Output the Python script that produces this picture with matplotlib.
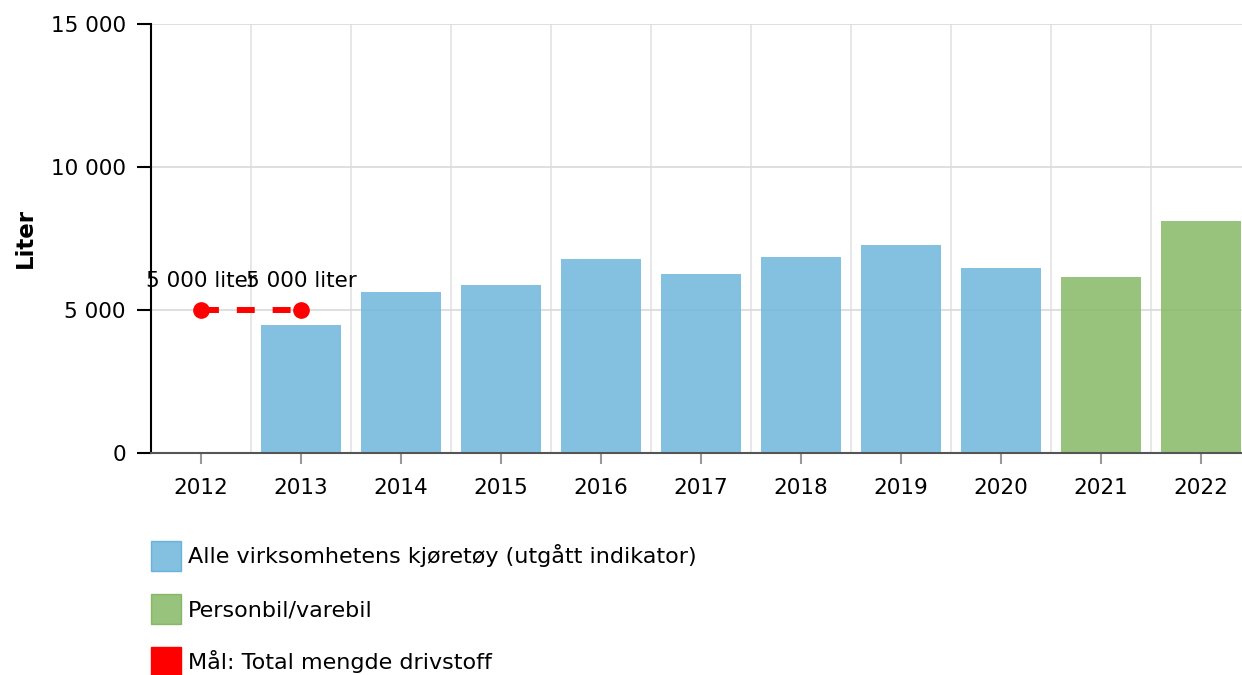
import matplotlib
matplotlib.use("Agg")
import matplotlib.pyplot as plt
from matplotlib.patches import Patch
from matplotlib.ticker import FuncFormatter

years = ['2012', '2013', '2014', '2015', '2016', '2017', '2018', '2019', '2020', '2021', '2022']
alle = [None, 4480, 5630, 5870, 6780, 6260, 6850, 7270, 6470, None, None]
person = [None, None, None, None, None, None, None, None, None, 6150, 8110]
maal_years = ['2012', '2013']
maal = [5000, 5000]

blue = '#6fb7dc'
green = '#86b965'
fs = 15.5
fs_leg = 16

fig = plt.figure(figsize=(12.42, 6.75), dpi=100)
ax = fig.add_axes([151 / 1242, 1 - 453 / 675, 1 - 151 / 1242, (453 - 24) / 675])

x = list(range(len(years)))
for i, v in enumerate(alle):
    if v is not None:
        ax.bar(i, v, width=0.8, color=blue, alpha=0.85, zorder=2)
for i, v in enumerate(person):
    if v is not None:
        ax.bar(i, v, width=0.8, color=green, alpha=0.85, zorder=2)

mx = [years.index(y) for y in maal_years]
ax.plot(mx, maal, color='red', lw=4.3, ls=(0, (3, 3)), marker='o', ms=11,
        zorder=4, clip_on=False)
for xi, v in zip(mx, maal):
    ax.text(xi, v + 1000, '5 000 liter', ha='center', va='center', fontsize=fs, zorder=5)

ax.set_yticks([0, 5000, 10000, 15000])
ax.yaxis.set_major_formatter(FuncFormatter(lambda v, p: f'{int(v):,}'.replace(',', ' ')))
ax.set_xticks(x)
ax.set_xticklabels(years)
ax.set_xticks([i + 0.5 for i in range(len(years) - 1)], minor=True)
ax.set_xlim(-0.5, 10.41)
ax.set_ylim(0, 15000)
ax.tick_params(axis='x', which='major', length=8, width=1.5, color='#999999',
               labelsize=fs, pad=10)
ax.tick_params(axis='x', which='minor', length=0)
ax.tick_params(axis='y', length=10, width=1.5, color='black', labelsize=fs, pad=8)
ax.grid(True, axis='y', color='#d9d9d9', lw=1.2, zorder=0)
ax.grid(True, axis='x', which='minor', color='#e3e3e3', lw=1.2, zorder=0)
ax.grid(False, axis='x', which='major')
ax.set_axisbelow(True)

for s in ['top', 'right']:
    ax.spines[s].set_visible(False)
ax.spines['left'].set_linewidth(1.5)
ax.spines['bottom'].set_color('#555555')
ax.spines['bottom'].set_linewidth(1.5)

ax.set_ylabel('Liter', fontsize=16.5, fontweight='bold')
ax.yaxis.set_label_coords(-0.105, 0.5)

handles = [
    Patch(facecolor=blue, edgecolor='#5aaad8', alpha=0.85),
    Patch(facecolor=green, edgecolor='#7ab158', alpha=0.85),
    Patch(facecolor='red', edgecolor='red'),
]
labels = ['Alle virksomhetens kjøretøy (utgått indikator)', 'Personbil/varebil',
          'Mål: Total mengde drivstoff']
fig.legend(handles, labels, loc='upper left', bbox_to_anchor=(142 / 1242, 1 - 532 / 675),
           frameon=False, fontsize=fs_leg, handlelength=1.36, handleheight=1.7,
           handletextpad=0.3, labelspacing=1.04, borderaxespad=0)

fig.savefig('out.png', dpi=100)
